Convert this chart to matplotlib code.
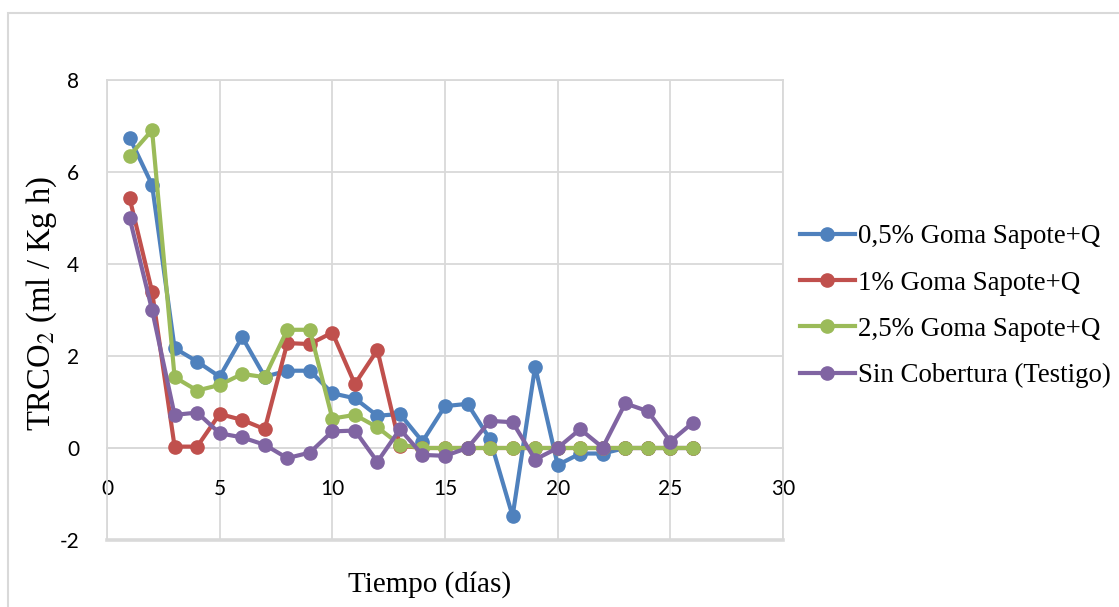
import matplotlib
matplotlib.use("Agg")
import matplotlib.pyplot as plt
from matplotlib.patches import Rectangle

# respiration rate (TRCO2) per treatment, days 1..26
dias = list(range(1, 27))
goma_05 = [6.75, 5.72, 2.17, 1.88, 1.55, 2.41, 1.55, 1.68, 1.68, 1.19,
           1.08, 0.70, 0.74, 0.14, 0.91, 0.96, 0.19, -1.48, 1.77, -0.37,
           -0.12, -0.12, 0.0, 0.0, 0.0, 0.0]
goma_1 = [5.44, 3.40, 0.03, 0.03, 0.74, 0.61, 0.41, 2.28, 2.26, 2.51,
          1.39, 2.13, 0.05, 0.0, 0.0, 0.0, 0.0, 0.0, 0.0, 0.0,
          0.0, 0.0, 0.0, 0.0, 0.0, 0.0]
goma_25 = [6.35, 6.91, 1.54, 1.25, 1.37, 1.61, 1.54, 2.57, 2.57, 0.64,
           0.72, 0.45, 0.07, 0.0, 0.0, 0.0, 0.0, 0.0, 0.0, 0.0,
           0.0, 0.0, 0.0, 0.0, 0.0, 0.0]
testigo = [5.01, 3.00, 0.72, 0.77, 0.32, 0.23, 0.07, -0.22, -0.10, 0.36,
           0.38, -0.30, 0.41, -0.15, -0.17, 0.0, 0.59, 0.56, -0.25, 0.0,
           0.41, 0.01, 0.97, 0.80, 0.14, 0.55]

series = [
    ("0,5% Goma Sapote+Q", goma_05, "#4F81BD"),
    ("1% Goma Sapote+Q", goma_1, "#C0504D"),
    ("2,5% Goma Sapote+Q", goma_25, "#9BBB59"),
    ("Sin Cobertura (Testigo)", testigo, "#8064A2"),
]

plt.rcParams["mathtext.fontset"] = "stix"
plt.rcParams["axes.unicode_minus"] = False
serif = "Liberation Serif"
sans = "Lato"
grid_c = "#D9D9D9"

fig = plt.figure(figsize=(11.19, 6.07), dpi=100)
ax = fig.add_axes([107 / 1119, 67 / 607, 676 / 1119, 460 / 607])

for label, vals, col in series:
    ax.plot(dias, vals, color=col, lw=3.0, marker="o", ms=9.5,
            label=label, solid_joinstyle="round", zorder=3)

ax.set_xlim(0, 30)
ax.set_ylim(-2, 8)
ax.set_xticks(range(0, 31, 5))
ax.set_yticks(range(-2, 9, 2))
ax.grid(True, color=grid_c, lw=1.3, zorder=0)
ax.set_axisbelow(True)

for side in ["left", "top", "right"]:
    ax.spines[side].set_color(grid_c)
    ax.spines[side].set_linewidth(1.3)
# x axis crosses at y = 0, frame closed by the -2 gridline
ax.spines["bottom"].set_position(("data", 0))
ax.spines["bottom"].set_color(grid_c)
ax.spines["bottom"].set_linewidth(1.3)
ax.axhline(-2, color=grid_c, lw=2.6, clip_on=False, zorder=0)

ax.tick_params(axis="both", length=0, labelsize=15, colors="#000000")
ax.tick_params(axis="x", pad=22)
ax.tick_params(axis="y", pad=20)
for t in ax.get_xticklabels() + ax.get_yticklabels():
    t.set_family(sans)

fig.text(42 / 1119, 1 - 303 / 607, "TRCO$_2$ (ml / Kg h)", family=serif,
         fontsize=23.5, rotation=90, ha="center", va="center")
fig.text(430 / 1119, 1 - 585 / 607, "Tiempo (días)", family=serif,
         fontsize=21, ha="center", va="center")

leg = ax.legend(loc="center left", bbox_to_anchor=(1.025, 0.508),
                frameon=False, prop={"family": serif, "size": 19.4},
                handlelength=2.04, handletextpad=0.11, labelspacing=0.79,
                borderpad=0, borderaxespad=0)

# outer chart border
fig.patches.append(Rectangle((8 / 1119, -0.1), 1.2, 1 - 13 / 607 + 0.1,
                             transform=fig.transFigure, fill=False,
                             edgecolor=grid_c, lw=1.5))

fig.savefig("out.png", dpi=100)
